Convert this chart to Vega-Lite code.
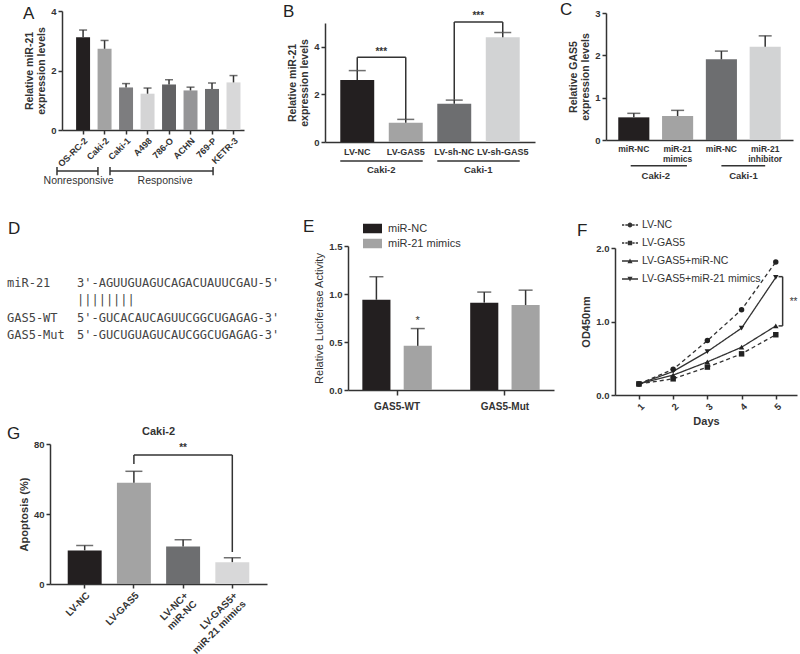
{
"$schema":"https://vega.github.io/schema/vega-lite/v6.json",
"background":"white",
"padding":{"left":7,"top":1,"right":0,"bottom":0},
"config":{
 "view":{"stroke":null},
 "font":"Liberation Sans",
 "axis":{"labelFont":"Liberation Sans","titleFont":"Liberation Sans","labelFontWeight":"bold","titleFontWeight":"bold","labelColor":"#333","titleColor":"#333","domainColor":"#333","tickColor":"#333","domainWidth":1.5,"tickWidth":1.5,"tickSize":4,"grid":false,"labelFontSize":9.5,"titleFontSize":10.5,"titlePadding":4},
 "title":{"font":"Liberation Sans","fontSize":17,"fontWeight":"normal","anchor":"start","frame":"group","color":"#222","offset":2},
 "legend":{"labelFont":"Liberation Sans","labelColor":"#333"}
},
"datasets":{
 "A":[
  {"cell":"OS-RC-2","value":3.12,"upper":3.36},
  {"cell":"Caki-2","value":2.73,"upper":3.01},
  {"cell":"Caki-1","value":1.43,"upper":1.56},
  {"cell":"A498","value":1.22,"upper":1.41},
  {"cell":"786-O","value":1.53,"upper":1.69},
  {"cell":"ACHN","value":1.33,"upper":1.44},
  {"cell":"769-P","value":1.38,"upper":1.58},
  {"cell":"KETR-3","value":1.60,"upper":1.83}],
 "B":[
  {"group":"LV-NC","value":2.60,"upper":3.00},
  {"group":"LV-GAS5","value":0.81,"upper":0.95},
  {"group":"LV-sh-NC","value":1.61,"upper":1.76},
  {"group":"LV-sh-GAS5","value":4.40,"upper":4.60}],
 "C":[
  {"id":"c1","value":0.535,"upper":0.63},
  {"id":"c2","value":0.567,"upper":0.70},
  {"id":"c3","value":1.905,"upper":2.10},
  {"id":"c4","value":2.20,"upper":2.46}],
 "D":[
  {"row":"r1","col":"name","text":"miR-21"},
  {"row":"r1","col":"seq","text":"3'-AGUUGUAGUCAGACUAUUCGAU-5'"},
  {"row":"r2","col":"seq","text":"\u00a0\u00a0\u00a0\u00a0\u00a0\u00a0||||||||"},
  {"row":"r3","col":"name","text":"GAS5-WT"},
  {"row":"r3","col":"seq","text":"5'-GUCACAUCAGUUCGGCUGAGAG-3'"},
  {"row":"r4","col":"name","text":"GAS5-Mut"},
  {"row":"r4","col":"seq","text":"5'-GUCUGUAGUCAUCGGCUGAGAG-3'"}],
 "E":[
  {"gene":"GAS5-WT","treat":"miR-NC","value":0.94,"upper":1.18,"sig":""},
  {"gene":"GAS5-WT","treat":"miR-21 mimics","value":0.46,"upper":0.64,"sig":"*"},
  {"gene":"GAS5-Mut","treat":"miR-NC","value":0.91,"upper":1.02,"sig":""},
  {"gene":"GAS5-Mut","treat":"miR-21 mimics","value":0.885,"upper":1.04,"sig":""}],
 "F":[
  {"series":"LV-NC","day":1,"od":0.15},{"series":"LV-NC","day":2,"od":0.35},{"series":"LV-NC","day":3,"od":0.74},{"series":"LV-NC","day":4,"od":1.16},{"series":"LV-NC","day":5,"od":1.81},
  {"series":"LV-GAS5","day":1,"od":0.15},{"series":"LV-GAS5","day":2,"od":0.22},{"series":"LV-GAS5","day":3,"od":0.38},{"series":"LV-GAS5","day":4,"od":0.56},{"series":"LV-GAS5","day":5,"od":0.82},
  {"series":"LV-GAS5+miR-NC","day":1,"od":0.15},{"series":"LV-GAS5+miR-NC","day":2,"od":0.27},{"series":"LV-GAS5+miR-NC","day":3,"od":0.45},{"series":"LV-GAS5+miR-NC","day":4,"od":0.65},{"series":"LV-GAS5+miR-NC","day":5,"od":0.94},
  {"series":"LV-GAS5+miR-21 mimics","day":1,"od":0.15},{"series":"LV-GAS5+miR-21 mimics","day":2,"od":0.32},{"series":"LV-GAS5+miR-21 mimics","day":3,"od":0.59},{"series":"LV-GAS5+miR-21 mimics","day":4,"od":0.91},{"series":"LV-GAS5+miR-21 mimics","day":5,"od":1.60}],
 "G":[
  {"group":"LV-NC","value":19.2,"upper":22.0},
  {"group":"LV-GAS5","value":57.8,"upper":64.4},
  {"group":"LV-NC+miR-NC","value":21.5,"upper":25.3},
  {"group":"LV-GAS5+miR-21 mimics","value":12.5,"upper":15.0}]
},
"spacing":-3,
"resolve":{"scale":{"color":"independent","shape":"independent","strokeDash":"independent"},"legend":{"color":"independent","shape":"independent","strokeDash":"independent"}},
"vconcat":[
 {"spacing":30,
  "resolve":{"scale":{"color":"independent","shape":"independent","strokeDash":"independent"},"legend":{"color":"independent","shape":"independent","strokeDash":"independent"}},
  "vconcat":[
 {"hconcat":[
  {"width":55,"height":1,"data":{"values":[{}]},"mark":{"type":"point","opacity":0}},
  {"width":182,"height":119,
   "title":{"text":"A","dx":-39,"dy":19},
   "layer":[
    {"data":{"name":"A"},
     "layer":[
      {"mark":{"type":"bar"},
       "encoding":{
        "x":{"field":"cell","type":"nominal","sort":null,"scale":{"domain":["OS-RC-2","Caki-2","Caki-1","A498","786-O","ACHN","769-P","KETR-3"],"paddingInner":0.35,"paddingOuter":0.41,"align":0.8},"axis":{"title":null,"labelAngle":-45,"ticks":true,"labelFontSize":9}},
        "y":{"field":"value","type":"quantitative","scale":{"domain":[0,4],"nice":false},"axis":{"values":[0,1,2,3,4],"title":["Relative miR-21","expression levels"]}},
        "color":{"field":"cell","type":"nominal","sort":null,"scale":{"domain":["OS-RC-2","Caki-2","Caki-1","A498","786-O","ACHN","769-P","KETR-3"],"range":["#231f20","#a3a3a3","#7d7d7f","#d4d4d5","#626264","#959597","#6d6e70","#d8d8d9"]},"legend":null}}},
      {"mark":{"type":"rule","color":"#333","strokeWidth":1.5},
       "encoding":{"x":{"field":"cell","type":"nominal","sort":null},"y":{"field":"value","type":"quantitative"},"y2":{"field":"upper"}}},
      {"mark":{"type":"tick","color":"#333","thickness":1.5,"size":8},
       "encoding":{"x":{"field":"cell","type":"nominal","sort":null},"y":{"field":"upper","type":"quantitative"}}}
     ]},
    {"data":{"values":[{}]},
     "layer":[
      {"mark":{"type":"rule","color":"#333","strokeWidth":1.5},"encoding":{"x":{"datum":-0.22,"type":"quantitative","scale":{"domain":[0,8],"nice":false,"zero":false},"axis":null},"x2":{"datum":1.58},"y":{"datum":-1.38,"type":"quantitative"}}},
      {"mark":{"type":"rule","color":"#333","strokeWidth":1.5},"encoding":{"x":{"datum":-0.22,"type":"quantitative","axis":null},"y":{"datum":-1.24,"type":"quantitative"},"y2":{"datum":-1.52}}},
      {"mark":{"type":"rule","color":"#333","strokeWidth":1.5},"encoding":{"x":{"datum":1.58,"type":"quantitative","axis":null},"y":{"datum":-1.24,"type":"quantitative"},"y2":{"datum":-1.52}}},
      {"mark":{"type":"rule","color":"#333","strokeWidth":1.5},"encoding":{"x":{"datum":2.11,"type":"quantitative","axis":null},"x2":{"datum":6.64},"y":{"datum":-1.38,"type":"quantitative"}}},
      {"mark":{"type":"rule","color":"#333","strokeWidth":1.5},"encoding":{"x":{"datum":2.11,"type":"quantitative","axis":null},"y":{"datum":-1.24,"type":"quantitative"},"y2":{"datum":-1.52}}},
      {"mark":{"type":"rule","color":"#333","strokeWidth":1.5},"encoding":{"x":{"datum":6.64,"type":"quantitative","axis":null},"y":{"datum":-1.24,"type":"quantitative"},"y2":{"datum":-1.52}}},
      {"mark":{"type":"text","font":"Liberation Sans","fontSize":10.5,"color":"#333","baseline":"middle","align":"center"},"encoding":{"x":{"datum":0.73,"type":"quantitative","axis":null},"y":{"datum":-1.72,"type":"quantitative"},"text":{"value":"Nonresponsive"}}},
      {"mark":{"type":"text","font":"Liberation Sans","fontSize":10.5,"color":"#333","baseline":"middle","align":"center"},"encoding":{"x":{"datum":4.53,"type":"quantitative","axis":null},"y":{"datum":-1.72,"type":"quantitative"},"text":{"value":"Responsive"}}}
     ]}
   ],
   "resolve":{"scale":{"x":"independent"},"axis":{"x":"independent"}}
  },
  {"width":81,"height":1,"data":{"values":[{}]},"mark":{"type":"point","opacity":0}},
  {"width":210,"height":131,
   "title":{"text":"B","dx":-42,"dy":12},
   "data":{"name":"B"},
   "layer":[
    {"mark":{"type":"bar"},
     "encoding":{
      "x":{"field":"group","type":"nominal","sort":null,"scale":{"domain":["LV-NC","LV-GAS5","LV-sh-NC","LV-sh-GAS5"],"paddingInner":0.3,"paddingOuter":0.315},"axis":{"title":null,"labelAngle":0,"ticks":false,"labelFontSize":9,"labelPadding":5}},
      "y":{"field":"value","type":"quantitative","scale":{"domain":[0,5],"nice":false,"range":[131,12]},"axis":{"values":[0,1,2,3,4,5],"title":["Relative miR-21","expression levels"]}},
      "color":{"field":"group","type":"nominal","sort":null,"scale":{"domain":["LV-NC","LV-GAS5","LV-sh-NC","LV-sh-GAS5"],"range":["#231f20","#a3a3a3","#6d6e70","#d2d3d4"]},"legend":null}}},
    {"mark":{"type":"rule","color":"#333","strokeWidth":1.5},
     "encoding":{"x":{"field":"group","type":"nominal","sort":null},"y":{"field":"value","type":"quantitative"},"y2":{"field":"upper"}}},
    {"mark":{"type":"tick","color":"#333","thickness":1.5,"size":17},
     "encoding":{"x":{"field":"group","type":"nominal","sort":null},"y":{"field":"upper","type":"quantitative"}}},
    {"data":{"values":[{}]},"mark":{"type":"rule","color":"#333","strokeWidth":1.5},"encoding":{"x":{"datum":"LV-NC","type":"nominal"},"y":{"datum":3.02,"type":"quantitative"},"y2":{"datum":3.56}}},
    {"data":{"values":[{}]},"mark":{"type":"rule","color":"#333","strokeWidth":1.5},"encoding":{"x":{"datum":"LV-NC","type":"nominal"},"x2":{"datum":"LV-GAS5"},"y":{"datum":3.56,"type":"quantitative"}}},
    {"data":{"values":[{}]},"mark":{"type":"rule","color":"#333","strokeWidth":1.5},"encoding":{"x":{"datum":"LV-GAS5","type":"nominal"},"y":{"datum":3.56,"type":"quantitative"},"y2":{"datum":0.97}}},
    {"data":{"values":[{}]},"mark":{"type":"text","font":"Liberation Sans","fontSize":10,"fontWeight":"bold","color":"#333","baseline":"middle","align":"center","dx":24},"encoding":{"x":{"datum":"LV-NC","type":"nominal"},"y":{"datum":3.8,"type":"quantitative"},"text":{"value":"***"}}},
    {"data":{"values":[{}]},"mark":{"type":"rule","color":"#333","strokeWidth":1.5},"encoding":{"x":{"datum":"LV-sh-NC","type":"nominal"},"y":{"datum":1.78,"type":"quantitative"},"y2":{"datum":5.04}}},
    {"data":{"values":[{}]},"mark":{"type":"rule","color":"#333","strokeWidth":1.5},"encoding":{"x":{"datum":"LV-sh-NC","type":"nominal"},"x2":{"datum":"LV-sh-GAS5"},"y":{"datum":5.04,"type":"quantitative"}}},
    {"data":{"values":[{}]},"mark":{"type":"rule","color":"#333","strokeWidth":1.5},"encoding":{"x":{"datum":"LV-sh-GAS5","type":"nominal"},"y":{"datum":5.04,"type":"quantitative"},"y2":{"datum":4.62}}},
    {"data":{"values":[{}]},"mark":{"type":"text","font":"Liberation Sans","fontSize":10,"fontWeight":"bold","color":"#333","baseline":"middle","align":"center","dx":24},"encoding":{"x":{"datum":"LV-sh-NC","type":"nominal"},"y":{"datum":5.28,"type":"quantitative"},"text":{"value":"***"}}},
    {"data":{"values":[{}]},"mark":{"type":"rule","color":"#333","strokeWidth":1.5},"encoding":{"x":{"datum":"LV-NC","type":"nominal","bandPosition":0},"x2":{"datum":"LV-GAS5","bandPosition":1},"y":{"datum":-0.8,"type":"quantitative"}}},
    {"data":{"values":[{}]},"mark":{"type":"rule","color":"#333","strokeWidth":1.5},"encoding":{"x":{"datum":"LV-sh-NC","type":"nominal","bandPosition":0},"x2":{"datum":"LV-sh-GAS5","bandPosition":1},"y":{"datum":-0.8,"type":"quantitative"}}},
    {"data":{"values":[{}]},"mark":{"type":"text","font":"Liberation Sans","fontSize":9.5,"fontWeight":"bold","color":"#333","baseline":"middle","align":"center","dx":24},"encoding":{"x":{"datum":"LV-NC","type":"nominal"},"y":{"datum":-1.17,"type":"quantitative"},"text":{"value":"Caki-2"}}},
    {"data":{"values":[{}]},"mark":{"type":"text","font":"Liberation Sans","fontSize":9.5,"fontWeight":"bold","color":"#333","baseline":"middle","align":"center","dx":24},"encoding":{"x":{"datum":"LV-sh-NC","type":"nominal"},"y":{"datum":-1.17,"type":"quantitative"},"text":{"value":"Caki-1"}}}
   ]},
  {"width":71,"height":1,"data":{"values":[{}]},"mark":{"type":"point","opacity":0}},
  {"width":187,"height":129,
   "title":{"text":"C","dx":-46,"dy":13},
   "data":{"name":"C"},
   "layer":[
    {"mark":{"type":"bar"},
     "encoding":{
      "x":{"field":"id","type":"nominal","sort":null,"scale":{"domain":["c1","c2","c3","c4"],"paddingInner":0.29,"paddingOuter":0.28},"axis":{"title":null,"labelAngle":0,"ticks":false,"labelFontSize":8.5,"labelPadding":4,"labelExpr":"datum.value == 'c1' || datum.value == 'c3' ? 'miR-NC' : datum.value == 'c2' ? ['miR-21','mimics'] : ['miR-21','inhibitor']"}},
      "y":{"field":"value","type":"quantitative","scale":{"domain":[0,3],"nice":false,"range":[129,2]},"axis":{"values":[0,1,2,3],"title":["Relative GAS5","expression levels"]}},
      "color":{"field":"id","type":"nominal","sort":null,"scale":{"domain":["c1","c2","c3","c4"],"range":["#231f20","#a3a3a3","#6d6e70","#d2d3d4"]},"legend":null}}},
    {"mark":{"type":"rule","color":"#333","strokeWidth":1.5},
     "encoding":{"x":{"field":"id","type":"nominal","sort":null},"y":{"field":"value","type":"quantitative"},"y2":{"field":"upper"}}},
    {"mark":{"type":"tick","color":"#333","thickness":1.5,"size":13},
     "encoding":{"x":{"field":"id","type":"nominal","sort":null},"y":{"field":"upper","type":"quantitative"}}},
    {"data":{"values":[{}]},"mark":{"type":"rule","color":"#333","strokeWidth":1.5},"encoding":{"x":{"datum":"c1","type":"nominal","bandPosition":0.4},"x2":{"datum":"c2","bandPosition":0.8},"y":{"datum":-0.61,"type":"quantitative"}}},
    {"data":{"values":[{}]},"mark":{"type":"rule","color":"#333","strokeWidth":1.5},"encoding":{"x":{"datum":"c3","type":"nominal","bandPosition":0.5},"x2":{"datum":"c4","bandPosition":0.5},"y":{"datum":-0.61,"type":"quantitative"}}},
    {"data":{"values":[{}]},"mark":{"type":"text","font":"Liberation Sans","fontSize":9.5,"fontWeight":"bold","color":"#333","baseline":"middle","align":"center","dx":22},"encoding":{"x":{"datum":"c1","type":"nominal"},"y":{"datum":-0.85,"type":"quantitative"},"text":{"value":"Caki-2"}}},
    {"data":{"values":[{}]},"mark":{"type":"text","font":"Liberation Sans","fontSize":9.5,"fontWeight":"bold","color":"#333","baseline":"middle","align":"center","dx":22},"encoding":{"x":{"datum":"c3","type":"nominal"},"y":{"datum":-0.85,"type":"quantitative"},"text":{"value":"Caki-1"}}}
   ]}
 ],"spacing":0,"bounds":"flush",
 "resolve":{"scale":{"color":"independent"},"legend":{"color":"independent"}}},
 {"hconcat":[
  {"width":140,"height":98,
   "title":{"text":"D","dx":1,"dy":-6},
   "data":{"name":"D"},
   "mark":{"type":"text","align":"left","baseline":"middle","font":"DejaVu Sans Mono","fontSize":12,"color":"#444"},
   "encoding":{
    "x":{"field":"col","type":"nominal","scale":{"type":"band","domain":["name","seq"],"paddingInner":0,"paddingOuter":0},"axis":null,"bandPosition":0},
    "y":{"field":"row","type":"nominal","scale":{"type":"band","domain":["r1","r2","r3","r4"],"paddingInner":0,"paddingOuter":0,"range":[28,98]},"axis":null,"bandPosition":0.5},
    "text":{"field":"text"}}},
  {"width":201,"height":1,"data":{"values":[{}]},"mark":{"type":"point","opacity":0}},
  {"width":206,"height":144,
   "title":{"text":"E","dx":-45,"dy":19},
   "data":{"name":"E"},
   "layer":[
    {"mark":{"type":"bar"},
     "encoding":{
      "x":{"field":"gene","type":"nominal","sort":null,"scale":{"domain":["GAS5-WT","GAS5-Mut"],"paddingInner":0.31,"paddingOuter":0.11},"axis":{"title":null,"labelAngle":0,"ticks":true,"tickSize":5,"labelFontSize":10,"labelPadding":6}},
      "xOffset":{"field":"treat","type":"nominal","sort":null,"scale":{"domain":["miR-NC","miR-21 mimics"],"paddingInner":0.32,"paddingOuter":0.06}},
      "y":{"field":"value","type":"quantitative","scale":{"domain":[0,1.5],"nice":false},"axis":{"values":[0,0.5,1,1.5],"format":".1f","title":"Relative Luciferase Activity","titleFontWeight":"normal","titleFontSize":11}},
      "color":{"field":"treat","type":"nominal","sort":null,"scale":{"domain":["miR-NC","miR-21 mimics"],"range":["#231f20","#a3a3a3"]},
        "legend":{"orient":"none","legendX":15,"legendY":-27,"title":null,"symbolType":"M-1,-0.5H1V0.5H-1Z","symbolSize":361,"symbolStrokeWidth":0,"labelFontSize":11,"labelOffset":6,"rowPadding":0,"padding":0}}}},
    {"mark":{"type":"rule","color":"#333","strokeWidth":1.5},
     "encoding":{"x":{"field":"gene","type":"nominal","sort":null},"xOffset":{"field":"treat","type":"nominal","sort":null},"y":{"field":"value","type":"quantitative"},"y2":{"field":"upper"}}},
    {"mark":{"type":"tick","color":"#333","thickness":1.5,"size":14},
     "encoding":{"x":{"field":"gene","type":"nominal","sort":null},"xOffset":{"field":"treat","type":"nominal","sort":null},"y":{"field":"upper","type":"quantitative"}}},
    {"mark":{"type":"text","font":"Liberation Sans","fontSize":11,"color":"#333","baseline":"bottom","align":"center","dy":-3},
     "encoding":{"x":{"field":"gene","type":"nominal","sort":null},"xOffset":{"field":"treat","type":"nominal","sort":null},"y":{"field":"upper","type":"quantitative"},"text":{"field":"sig"}}}
   ]},
  {"width":61,"height":1,"data":{"values":[{}]},"mark":{"type":"point","opacity":0}},
  {"width":182,"height":149,
   "title":{"text":"F","dx":-38,"dy":25},
   "data":{"name":"F"},
   "layer":[
    {"mark":{"type":"line","color":"#333","strokeWidth":1.3},
     "encoding":{
      "x":{"field":"day","type":"quantitative","scale":{"domain":[0.3,5.62],"nice":false,"zero":false},"axis":{"values":[1,2,3,4,5],"format":"d","labelAngle":-45,"title":"Days","titleFontSize":11,"labelFontSize":9.5}},
      "y":{"field":"od","type":"quantitative","scale":{"domain":[0,2],"nice":false,"range":[149,2]},"axis":{"values":[0,0.5,1,1.5,2],"format":".1f","title":"OD450nm","titleFontSize":11}},
      "detail":{"field":"series","type":"nominal"},
      "strokeDash":{"field":"series","type":"nominal","scale":{"domain":["LV-NC","LV-GAS5","LV-GAS5+miR-NC","LV-GAS5+miR-21 mimics"],"range":[[4,3],[4,3],[1,0],[1,0]]},"legend":null}}},
    {"mark":{"type":"point","filled":true,"color":"#222","opacity":1,"size":30},
     "encoding":{
      "x":{"field":"day","type":"quantitative"},
      "y":{"field":"od","type":"quantitative"},
      "shape":{"field":"series","type":"nominal","scale":{"domain":["LV-NC","LV-GAS5","LV-GAS5+miR-NC","LV-GAS5+miR-21 mimics"],"range":["circle","square","triangle-up","triangle-down"]},"legend":null}}},
    {"transform":[{"filter":"false"}],
     "mark":{"type":"point","filled":true,"color":"#333","opacity":1},
     "encoding":{
      "shape":{"field":"series","type":"nominal","scale":{"domain":["LV-NC","LV-GAS5","LV-GAS5+miR-NC","LV-GAS5+miR-21 mimics"],"range":[
        "M-1,-0.08H-0.72V0.08H-1Z M-0.58,-0.08H-0.3V0.08H-0.58Z M0.3,-0.08H0.58V0.08H0.3Z M0.72,-0.08H1V0.08H0.72Z M-0.3,0A0.3,0.3,0,1,1,0.3,0A0.3,0.3,0,1,1,-0.3,0Z",
        "M-1,-0.08H-0.72V0.08H-1Z M-0.58,-0.08H-0.3V0.08H-0.58Z M0.3,-0.08H0.58V0.08H0.3Z M0.72,-0.08H1V0.08H0.72Z M-0.27,-0.27H0.27V0.27H-0.27Z",
        "M-1,-0.08H1V0.08H-1Z M-0.32,0.28L0,-0.3L0.32,0.28Z",
        "M-1,-0.08H1V0.08H-1Z M-0.32,-0.28L0.32,-0.28L0,0.3Z"]},
       "legend":{"orient":"none","legendX":7,"legendY":-29,"title":null,"symbolSize":256,"symbolStrokeWidth":0,"symbolFillColor":"#333","symbolOpacity":1,"labelFontSize":10.5,"labelOffset":4,"rowPadding":4,"padding":0}}}},
    {"data":{"values":[{}]},"mark":{"type":"rule","color":"#333","strokeWidth":1.5},"encoding":{"x":{"datum":5.2,"type":"quantitative"},"y":{"datum":1.61,"type":"quantitative"},"y2":{"datum":0.94}}},
    {"data":{"values":[{}]},"mark":{"type":"rule","color":"#333","strokeWidth":1.5},"encoding":{"x":{"datum":5.08,"type":"quantitative"},"x2":{"datum":5.2},"y":{"datum":1.61,"type":"quantitative"}}},
    {"data":{"values":[{}]},"mark":{"type":"rule","color":"#333","strokeWidth":1.5},"encoding":{"x":{"datum":5.08,"type":"quantitative"},"x2":{"datum":5.2},"y":{"datum":0.94,"type":"quantitative"}}},
    {"data":{"values":[{}]},"mark":{"type":"text","font":"Liberation Sans","fontSize":10,"color":"#333","baseline":"middle","align":"center"},"encoding":{"x":{"datum":5.52,"type":"quantitative"},"y":{"datum":1.27,"type":"quantitative"},"text":{"value":"**"}}}
   ],
   "resolve":{"scale":{"shape":"independent"}}}
 ],"spacing":0,"bounds":"flush",
 "resolve":{"scale":{"color":"independent","shape":"independent","strokeDash":"independent"},"legend":{"color":"independent","shape":"independent","strokeDash":"independent"}}}
 ]},
 {"hconcat":[
  {"width":43,"height":1,"title":{"text":"G","dx":0,"dy":3},"data":{"values":[{}]},"mark":{"type":"point","opacity":0}},
  {"width":217,"height":140,
   "title":{"text":"Caki-2","anchor":"middle","fontSize":11,"fontWeight":"bold","color":"#333","offset":4,"dy":2},
   "data":{"name":"G"},
   "layer":[
    {"mark":{"type":"bar"},
     "encoding":{
      "x":{"field":"group","type":"nominal","sort":null,"scale":{"domain":["LV-NC","LV-GAS5","LV-NC+miR-NC","LV-GAS5+miR-21 mimics"],"paddingInner":0.31,"paddingOuter":0.36},"axis":{"title":null,"labelAngle":-45,"ticks":true,"labelFontSize":10,"labelExpr":"datum.value == 'LV-NC+miR-NC' ? ['LV-NC+','miR-NC'] : datum.value == 'LV-GAS5+miR-21 mimics' ? ['LV-GAS5+','miR-21 mimics'] : datum.value"}},
      "y":{"field":"value","type":"quantitative","scale":{"domain":[0,80],"nice":false},"axis":{"values":[0,20,40,60,80],"title":"Apoptosis (%)","titleFontSize":11}},
      "color":{"field":"group","type":"nominal","sort":null,"scale":{"domain":["LV-NC","LV-GAS5","LV-NC+miR-NC","LV-GAS5+miR-21 mimics"],"range":["#231f20","#a3a3a3","#6d6e70","#d8d8d9"]},"legend":null}}},
    {"mark":{"type":"rule","color":"#333","strokeWidth":1.5},
     "encoding":{"x":{"field":"group","type":"nominal","sort":null},"y":{"field":"value","type":"quantitative"},"y2":{"field":"upper"}}},
    {"mark":{"type":"tick","color":"#333","thickness":1.5,"size":17},
     "encoding":{"x":{"field":"group","type":"nominal","sort":null},"y":{"field":"upper","type":"quantitative"}}},
    {"data":{"values":[{}]},"mark":{"type":"rule","color":"#333","strokeWidth":1.5},"encoding":{"x":{"datum":"LV-GAS5","type":"nominal"},"y":{"datum":68.6,"type":"quantitative"},"y2":{"datum":73.7}}},
    {"data":{"values":[{}]},"mark":{"type":"rule","color":"#333","strokeWidth":1.5},"encoding":{"x":{"datum":"LV-GAS5","type":"nominal"},"x2":{"datum":"LV-GAS5+miR-21 mimics"},"y":{"datum":73.7,"type":"quantitative"}}},
    {"data":{"values":[{}]},"mark":{"type":"rule","color":"#333","strokeWidth":1.5},"encoding":{"x":{"datum":"LV-GAS5+miR-21 mimics","type":"nominal"},"y":{"datum":73.7,"type":"quantitative"},"y2":{"datum":18.3}}},
    {"data":{"values":[{}]},"mark":{"type":"text","font":"Liberation Sans","fontSize":10,"fontWeight":"bold","color":"#333","baseline":"middle","align":"center"},"encoding":{"x":{"datum":"LV-NC+miR-NC","type":"nominal"},"y":{"datum":77.5,"type":"quantitative"},"text":{"value":"**"}}}
   ]}
 ],"spacing":0,"bounds":"flush",
 "resolve":{"scale":{"color":"independent"},"legend":{"color":"independent"}}}
]
}
